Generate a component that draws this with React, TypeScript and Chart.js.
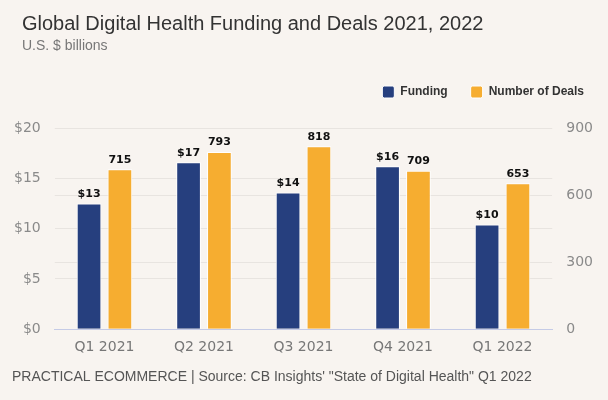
import React, { useEffect, useRef } from "react";
import { Chart, registerables } from "chart.js";

Chart.register(...registerables);

const categories = ["Q1 2021", "Q2 2021", "Q3 2021", "Q4 2021", "Q1 2022"];
const funding = [12.5, 16.6, 13.6, 16.2, 10.4];
const fundingLabels = ["$13", "$17", "$14", "$16", "$10"];
const deals = [715, 793, 818, 709, 653];
const dealLabels = ["715", "793", "818", "709", "653"];

const TITLE = "Global Digital Health Funding and Deals 2021, 2022";
const SUBTITLE = "U.S. $ billions";
const FOOTER = "PRACTICAL ECOMMERCE | Source: CB Insights' \"State of Digital Health\" Q1 2022";

const textPlugin = {
  id: "textPlugin",
  afterDraw(chart: any) {
    const ctx = chart.ctx;
    ctx.save();
    ctx.textAlign = "left";
    ctx.textBaseline = "alphabetic";
    ctx.fillStyle = "#333333";
    ctx.font = "20px 'Liberation Sans', Arial, sans-serif";
    ctx.fillText(TITLE, 22, 30);
    ctx.fillStyle = "#777777";
    ctx.font = "14px 'Liberation Sans', Arial, sans-serif";
    ctx.fillText(SUBTITLE, 22, 50);
    ctx.fillStyle = "#555555";
    ctx.font = "14px 'Liberation Sans', Arial, sans-serif";
    ctx.fillText(FOOTER, 12, 381);
    ctx.restore();
  },
};

const legendMarginPlugin = {
  id: "legendMargin",
  beforeInit(chart: any) {
    const legend = chart.legend;
    if (!legend) return;
    const orig = legend.fit;
    legend.fit = function () {
      orig.bind(legend)();
      this.height += 20;
    };
  },
};

const dataLabelPlugin = {
  id: "dataLabelPlugin",
  afterDatasetsDraw(chart: any) {
    const ctx = chart.ctx;
    const labelSets = [fundingLabels, dealLabels];
    ctx.save();
    ctx.font = "bold 11px 'DejaVu Sans', sans-serif";
    ctx.fillStyle = "#111111";
    ctx.textAlign = "center";
    ctx.textBaseline = "bottom";
    chart.data.datasets.forEach((_: any, di: number) => {
      const meta = chart.getDatasetMeta(di);
      meta.data.forEach((el: any, i: number) => {
        ctx.fillText(labelSets[di][i], el.x, el.y - 4);
      });
    });
    ctx.restore();
  },
};

const bgPlugin = {
  id: "bgPlugin",
  beforeDraw(chart: any) {
    const ctx = chart.ctx;
    ctx.save();
    ctx.fillStyle = "#f8f4f0";
    ctx.fillRect(0, 0, chart.width, chart.height);
    ctx.restore();
  },
};

export default function App() {
  const ref = useRef<HTMLCanvasElement | null>(null);

  useEffect(() => {
    document.body.style.margin = "0";
    if (!ref.current) return;
    const tickFont = { family: "'DejaVu Sans', sans-serif", size: 14 };
    const chart = new Chart(ref.current, {
      type: "bar",
      data: {
        labels: categories,
        datasets: [
          {
            label: "Funding",
            data: funding,
            backgroundColor: "#263f7e",
            borderColor: "#ffffff",
            borderWidth: 1,
            yAxisID: "y",
            categoryPercentage: 0.62,
            barPercentage: 0.8,
          },
          {
            label: "Number of Deals",
            data: deals,
            backgroundColor: "#f6ad30",
            borderColor: "#ffffff",
            borderWidth: 1,
            yAxisID: "y1",
            categoryPercentage: 0.62,
            barPercentage: 0.8,
          },
        ],
      },
      options: {
        animation: false,
        responsive: false,
        maintainAspectRatio: false,
        layout: { padding: { top: 63, left: 0, right: 1, bottom: 42 } },
        plugins: {
          legend: {
            position: "top",
            align: "end",
            labels: {
              boxWidth: 12,
              boxHeight: 12,
              useBorderRadius: true,
              borderRadius: 2,
              padding: 23,
              color: "#333333",
              font: { family: "'Liberation Sans', Arial, sans-serif", size: 12, weight: "bold" },
            },
          },
          title: { display: false },
          tooltip: { enabled: false },
        },
        scales: {
          x: {
            grid: { display: false },
            border: { color: "#c5cbe6", width: 1 },
            ticks: { color: "#777777", font: tickFont, padding: 2 },
          },
          y: {
            position: "left",
            min: 0,
            max: 20,
            ticks: {
              stepSize: 5,
              color: "#8a8a8a",
              font: tickFont,
              padding: 14,
              callback: (v: any) => "$" + v,
            },
            grid: { color: "#e8e4e0", drawTicks: false },
            border: { display: false },
          },
          y1: {
            position: "right",
            min: 0,
            max: 900,
            ticks: { stepSize: 300, color: "#8a8a8a", font: tickFont, padding: 14 },
            grid: { color: "#e8e4e0", drawTicks: false },
            border: { display: false },
          },
        },
      },
      plugins: [bgPlugin, legendMarginPlugin, dataLabelPlugin, textPlugin],
    } as any);
    return () => chart.destroy();
  }, []);

  return (
    <div style={{ width: 608, height: 400, background: "#f8f4f0" }}>
      <canvas ref={ref} width={608} height={400} style={{ display: "block" }} />
    </div>
  );
}
